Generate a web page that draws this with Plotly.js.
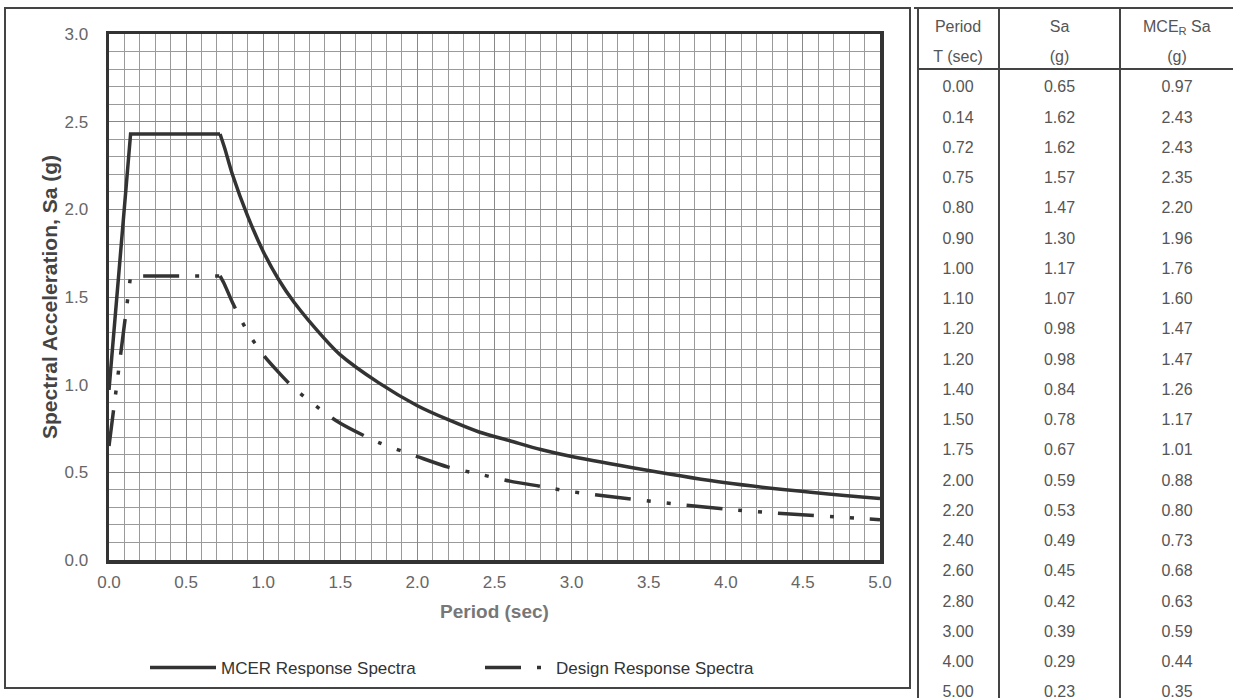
<!DOCTYPE html>
<html>
<head>
<meta charset="utf-8">
<script src="https://cdn.plot.ly/plotly-3.0.1.min.js"></script>
<style>
html,body{margin:0;padding:0;background:#fff;}
#chart{width:1233px;height:698px;}
.scrollbar-kit{display:none;}
</style>
</head>
<body>
<div id="chart"></div>
<script>
const periods   = [0.00,0.14,0.72,0.75,0.80,0.90,1.00,1.10,1.20,1.20,1.40,1.50,1.75,2.00,2.20,2.40,2.60,2.80,3.00,4.00,5.00];
const saDesign  = [0.65,1.62,1.62,1.57,1.47,1.30,1.17,1.07,0.98,0.98,0.84,0.78,0.67,0.59,0.53,0.49,0.45,0.42,0.39,0.29,0.23];
const saMCER    = [0.97,2.43,2.43,2.35,2.20,1.96,1.76,1.60,1.47,1.47,1.26,1.17,1.01,0.88,0.80,0.73,0.68,0.63,0.59,0.44,0.35];
const headerTop = ['Period', 'Sa', 'MCE<sub>R</sub> Sa'];
const headerUnits = ['T (sec)', '(g)', '(g)'];
const seriesNames = ['MCER Response Spectra', 'Design Response Spectra'];
const xTicks = [0,0.5,1,1.5,2,2.5,3,3.5,4,4.5,5];
const yTicks = [0,0.5,1,1.5,2,2.5,3];

// ---- helpers ----
const W = 1233, H = 698;
const px = v => v / W;
const py = v => 1 - v / H;
const fmt = arr => arr.map(v => v.toFixed(2));

function dedupe(xs, ys) {
  const ox = [], oy = [];
  for (let i = 0; i < xs.length; i++) {
    if (i > 0 && xs[i] === xs[i-1] && ys[i] === ys[i-1]) continue;
    ox.push(xs[i]); oy.push(ys[i]);
  }
  return [ox, oy];
}
// rising branch + plateau drawn straight, descending branch smoothed
const plateauEnd = 2;
const [dx, dyD] = dedupe(periods.slice(plateauEnd), saDesign.slice(plateauEnd));
const [mx, myM] = dedupe(periods.slice(plateauEnd), saMCER.slice(plateauEnd));

const lineColor = '#333';
const designDash = '36px,16px,4px,16px,4px,16px';
const FONT = 'Liberation Sans, Arial, sans-serif';
const tableFont = {family:FONT, size:16, color:'#555'};

// table columns: unit line followed by the values
const colPeriod = [headerUnits[0]].concat(fmt(periods));
const colSa     = [headerUnits[1]].concat(fmt(saDesign));
const colMCE    = [headerUnits[2]].concat(fmt(saMCER));

const traces = [
  {x: periods.slice(0, plateauEnd+1), y: saMCER.slice(0, plateauEnd+1), mode:'lines', name: seriesNames[0],
   line:{color:lineColor, width:3.5}, showlegend:true, legendgroup:'m'},
  {x: mx, y: myM, mode:'lines', name: seriesNames[0], line:{color:lineColor, width:3.5, shape:'spline', smoothing:0.8},
   showlegend:false, legendgroup:'m'},
  {x: periods.slice(0, plateauEnd+1), y: saDesign.slice(0, plateauEnd+1), mode:'lines', name: seriesNames[1],
   line:{color:lineColor, width:3.5, dash:designDash}, showlegend:true, legendgroup:'d'},
  {x: dx, y: dyD, mode:'lines', name: seriesNames[1], line:{color:lineColor, width:3.5, dash:designDash, shape:'spline', smoothing:0.8},
   showlegend:false, legendgroup:'d'},
  {type:'table',
   domain:{x:[px(918), 1], y:[0, py(12)]},
   columnwidth:[80,123,112],
   // the third header (with a subscript) is drawn as an annotation so the row keeps its height
   header:{values: [headerTop[0], headerTop[1], ''], height:30, align:'center', font:tableFont,
           line:{width:0, color:'rgba(0,0,0,0)'}, fill:{color:'rgba(0,0,0,0)'}},
   cells:{values:[colPeriod, colSa, colMCE],
          height:30.25, align:'center', font:tableFont,
          line:{width:0, color:'rgba(0,0,0,0)'}, fill:{color:'rgba(0,0,0,0)'}}
  }
];

const axisFont = {family:FONT, size:17, color:'#666'};
const shapeLine = {color:'#444', width:2};
const layout = {
  width: W, height: H,
  margin:{l:0, r:0, t:0, b:0},
  paper_bgcolor:'#ffffff', plot_bgcolor:'#ffffff',
  font:{family:FONT, color:'#444'},
  showlegend:true,
  legend:{orientation:'h', x:px(145), xanchor:'left', y:py(668), yanchor:'middle',
          entrywidth:254, entrywidthmode:'pixels', itemwidth:66,
          font:{family:FONT, size:17, color:'#333'}, bgcolor:'rgba(0,0,0,0)'},
  xaxis:{domain:[px(109), px(880)], range:[0,5], tickvals:xTicks, tickformat:'.1f', ticks:'',
         showgrid:true, gridcolor:'#888', gridwidth:1,
         minor:{dtick:0.1, tick0:0, showgrid:true, gridcolor:'#9a9a9a', gridwidth:1},
         showline:true, mirror:true, linecolor:'#333', linewidth:3.5, zeroline:false,
         tickfont:axisFont, ticklabelstandoff:4, fixedrange:true,
         title:{text:'<b>Period (sec)</b>', font:{family:FONT, size:19, color:'#777'}, standoff:15}},
  yaxis:{domain:[py(560), py(34)], range:[0,3], tickvals:yTicks, tickformat:'.1f', ticks:'',
         showgrid:true, gridcolor:'#888', gridwidth:1,
         minor:{dtick:0.1, tick0:0, showgrid:true, gridcolor:'#9a9a9a', gridwidth:1},
         showline:true, mirror:true, linecolor:'#333', linewidth:3.5, zeroline:false,
         tickfont:axisFont, ticklabelstandoff:14, fixedrange:true,
         title:{text:'<b>Spectral Acceleration, Sa (g)</b>', font:{family:FONT, size:21, color:'#444'}, standoff:2}},
  annotations:[
    {text: headerTop[2], xref:'paper', yref:'paper', x:px(1177), y:py(27), xanchor:'center', yanchor:'middle',
     showarrow:false, font:tableFont}
  ],
  shapes:[
    {type:'rect', xref:'paper', yref:'paper', x0:px(5), x1:px(910), y0:py(688), y1:py(8), line:shapeLine, fillcolor:'rgba(0,0,0,0)'},
    {type:'line', xref:'paper', yref:'paper', x0:px(914), x1:1, y0:py(8), y1:py(8), line:shapeLine},
    {type:'line', xref:'paper', yref:'paper', x0:px(918), x1:1, y0:py(69), y1:py(69), line:shapeLine},
    {type:'line', xref:'paper', yref:'paper', x0:px(918), x1:px(918), y0:py(8), y1:0, line:shapeLine},
    {type:'line', xref:'paper', yref:'paper', x0:px(999), x1:px(999), y0:py(8), y1:0, line:shapeLine},
    {type:'line', xref:'paper', yref:'paper', x0:px(1120), x1:px(1120), y0:py(8), y1:0, line:shapeLine}
  ]
};

Plotly.newPlot('chart', traces, layout, {displayModeBar:false, staticPlot:true});
</script>
</body>
</html>
